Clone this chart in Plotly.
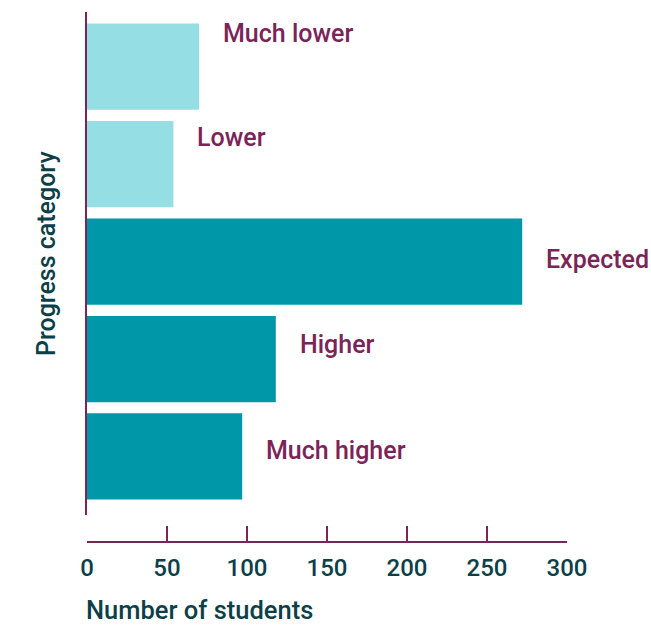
import plotly.graph_objects as go

categories = ["Much lower", "Lower", "Expected", "Higher", "Much higher"]
students = [70, 54, 272, 118, 97]
bar_colors = ["#95DFE4", "#95DFE4", "#0098A8", "#0098A8", "#0098A8"]
x_ticks = [0, 50, 100, 150, 200, 250, 300]

label_yshift = [33, 27, 2, 15, 6]

MAROON = "#7B2458"
TEAL_TEXT = "#0C3F47"
FONT = "Roboto, Arial, sans-serif"

fig = go.Figure(
    go.Bar(
        x=students,
        y=categories,
        orientation="h",
        marker=dict(color=bar_colors, line=dict(width=0)),
        hoverinfo="skip",
    )
)

for cat, val, ys in zip(categories, students, label_yshift):
    fig.add_annotation(
        x=val, y=cat, xref="x", yref="y",
        text=cat, showarrow=False,
        xanchor="left", yanchor="middle",
        xshift=22, yshift=ys,
        font=dict(family=FONT, size=25, color=MAROON, weight=500),
    )

fig.add_annotation(
    x=0, y=-0.158, xref="paper", yref="paper",
    text="Number of students", showarrow=False,
    xanchor="left", yanchor="bottom", xshift=-2,
    borderpad=0,
    font=dict(family=FONT, size=25.5, color=TEAL_TEXT, weight=500),
)
fig.add_annotation(
    x=-0.0833, y=0.5434, xref="paper", yref="paper",
    text="Progress category", showarrow=False, textangle=-90,
    xanchor="center", yanchor="middle",
    font=dict(family=FONT, size=25, color=TEAL_TEXT, weight=500),
)

fig.update_layout(
    width=651, height=627,
    margin=dict(l=87, r=84, t=12, b=85, autoexpand=False),
    plot_bgcolor="white", paper_bgcolor="white",
    showlegend=False,
    bargap=0.115,
    font=dict(family=FONT, color=TEAL_TEXT),
    xaxis=dict(
        range=[0, 300],
        tickvals=x_ticks,
        ticktext=[str(t) for t in x_ticks],
        ticks="inside", ticklen=15, tickwidth=2, tickcolor=MAROON,
        showline=True, linecolor=MAROON, linewidth=2,
        showgrid=False, zeroline=False,
        anchor="free", position=0,
        automargin=False,
        ticklabelstandoff=4,
        tickfont=dict(family=FONT, size=24, color=TEAL_TEXT, weight=500),
    ),
    yaxis=dict(
        domain=[0.051, 1],
        categoryorder="array", categoryarray=categories,
        range=[4.6, -0.56],
        showticklabels=False, ticks="",
        showline=True, linecolor=MAROON, linewidth=2,
        showgrid=False, zeroline=False,
        automargin=False,
    ),
)

fig.write_html("out.html")
